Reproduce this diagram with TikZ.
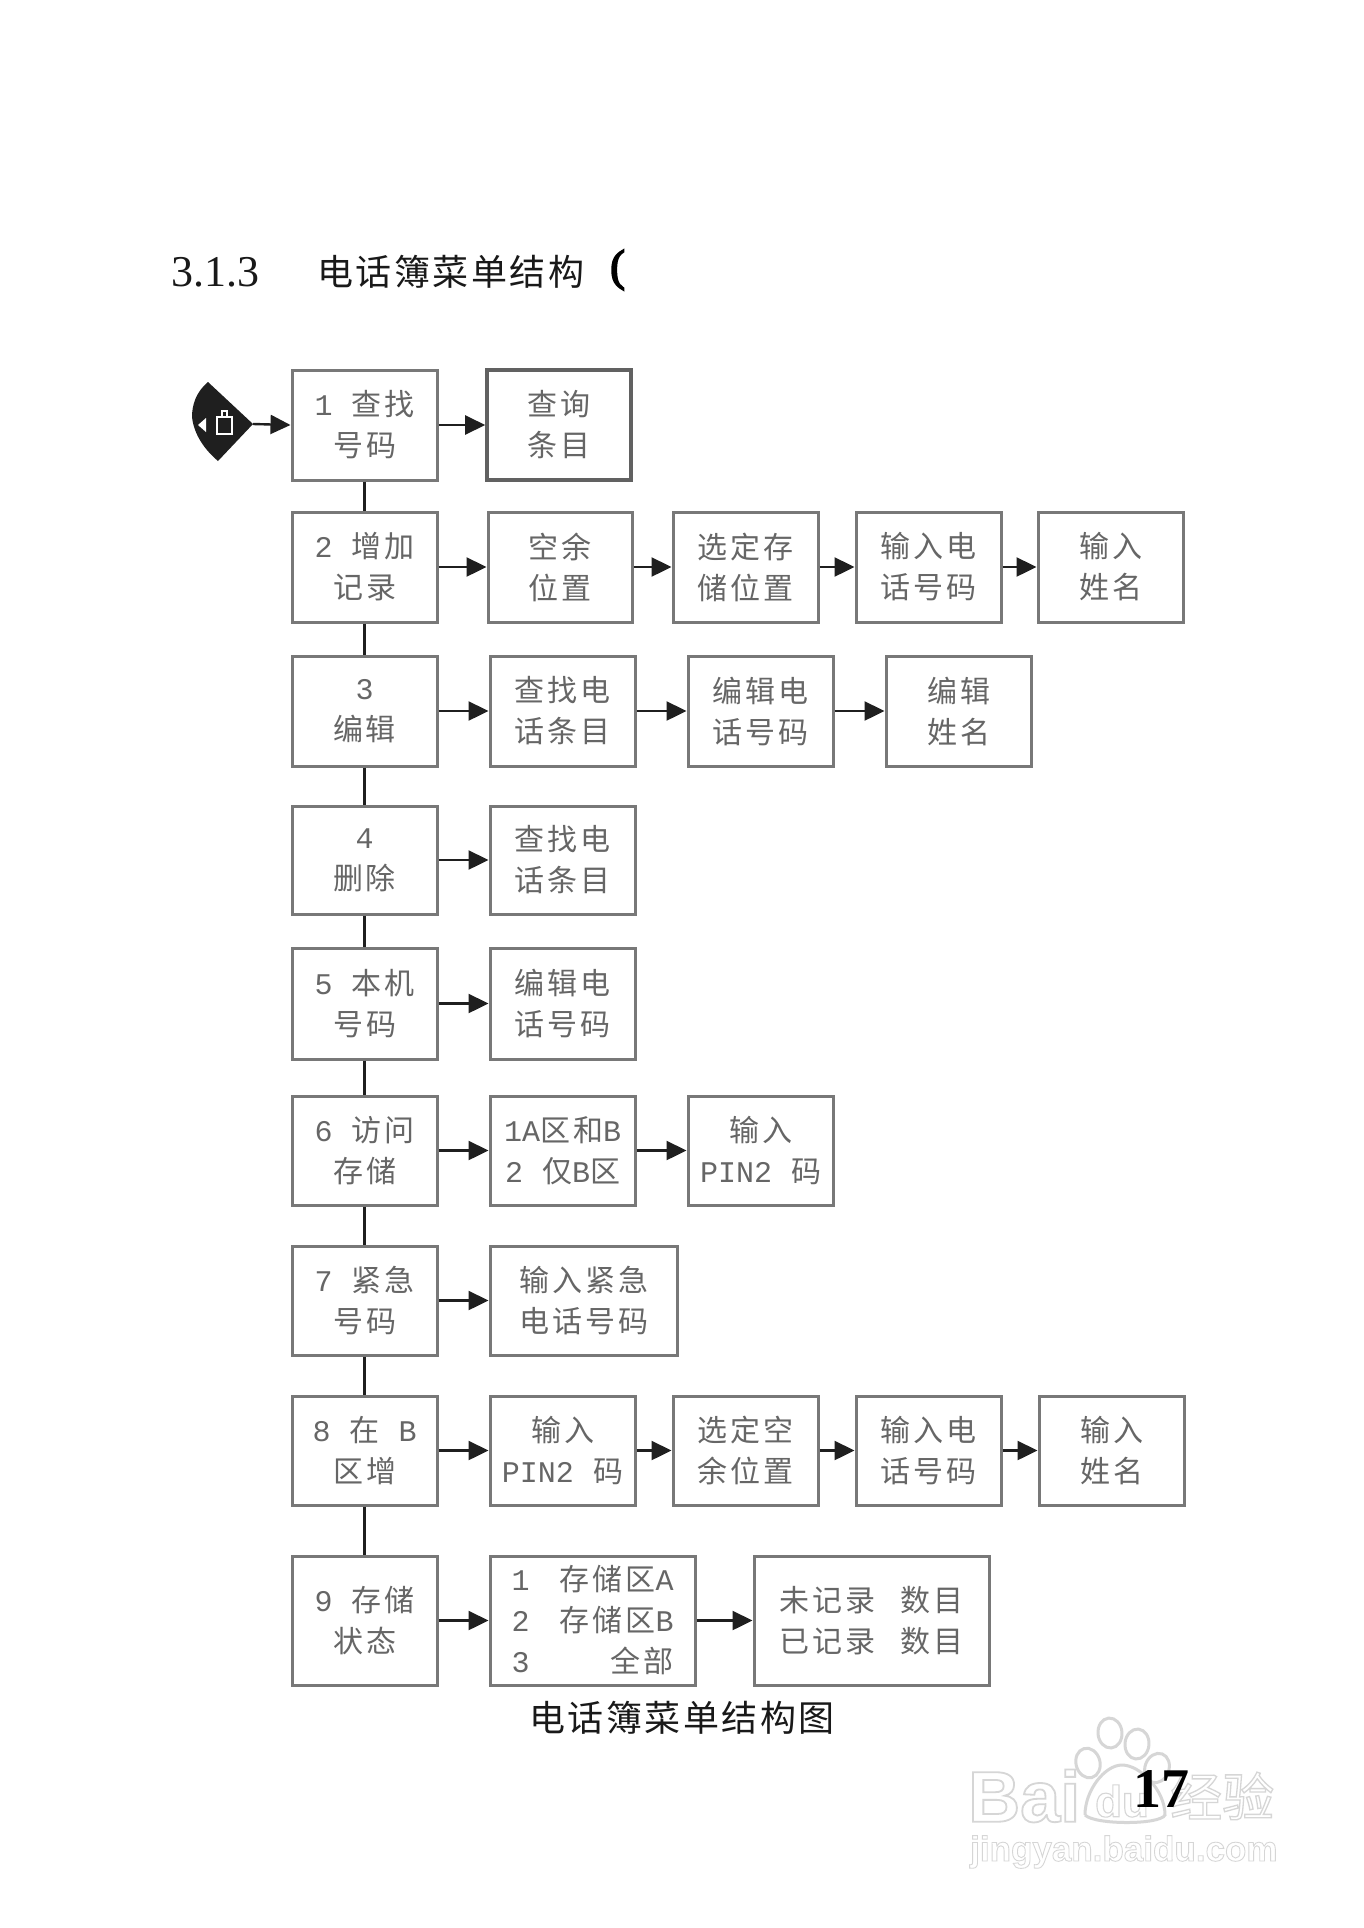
\documentclass[tikz,border=0pt]{standalone}
\usepackage{fontspec}
\usetikzlibrary{arrows.meta}
\setmainfont{Liberation Serif}
\setmonofont{Liberation Mono}
\newfontfamily\cjk[LetterSpace=10]{Noto Sans CJK SC}
\newfontfamily\cjkhead[LetterSpace=7]{Noto Sans CJK SC}
\newfontfamily\brfont[FakeBold=4]{Liberation Serif}
\newfontfamily\wmsans[FakeBold=2.5]{Liberation Sans Bold}
\newfontfamily\wmcjk[FakeBold=2.5]{Noto Sans CJK SC}
\newcommand{\lat}[1]{{\ttfamily #1}}
\newcommand{\gp}{\hspace{19pt}}
\newcommand{\outl}[1]{\special{pdf:code q 1 g 0.84 G}#1\special{pdf:code Q}}
\newcommand{\bx}[6]{\node[menubox,minimum width={#4-#2},minimum height={#5-#3}] (#1) at ({(#2+#4)/2},{(#3+#5)/2}) {#6};}
\definecolor{boxline}{gray}{0.47}
\definecolor{boxtext}{gray}{0.40}
\tikzset{
  menubox/.style={draw=boxline,line width=3pt,fill=white,inner sep=0pt,align=center,text=boxtext,
    font=\cjk\fontsize{30}{41}\selectfont},
  link/.style={draw=black!88,line width=2.4pt},
  flow/.style={link,-{Triangle[length=20pt,width=19pt]}},
  titletext/.style={inner sep=0pt,anchor=west,text=black!90},
  mark1/.style={inner sep=0pt},
}
\begin{document}
\begin{tikzpicture}[x=1pt,y=-1pt]
\useasboundingbox (0,0) rectangle (1364,1928);
\fill[white] (0,0) rectangle (1364,1928);
% watermark
\foreach \cx/\cy/\ang in {1088/1763/15,1110/1733/5,1137/1744/-5,1157/1768/-20}
  \draw[black!16,line width=3pt] (\cx,\cy) ellipse[x radius=12,y radius=15,rotate=\ang];
\draw[black!16,line width=3pt] (1085,1815) .. controls (1085,1790) and (1105,1765) .. (1122,1765) .. controls (1140,1765) and (1165,1790) .. (1165,1815) .. controls (1160,1825) and (1095,1825) .. (1085,1815);
\node[mark1,font=\wmsans\fontsize{72}{72}\selectfont,anchor=west] (wmbai) at (968,1796) {\outl{Bai}};
\node[mark1,font=\wmsans\fontsize{44}{46}\selectfont] (wmdu) at (1122,1801) {\outl{du}};
\node[mark1,font=\wmcjk\fontsize{52}{52}\selectfont,anchor=west] (wmjy) at (1170,1796) {\outl{经验}};
\node[mark1,font=\wmsans\fontsize{35}{38}\selectfont,anchor=west] (wmurl) at (970,1852) {\outl{jingyan.baidu.com}};
% heading
\node[titletext,font=\fontsize{44}{48}\selectfont] (secno) at (171,272) {3.1.3};
\node[titletext,font=\cjkhead\fontsize{36}{40}\selectfont] (sectitle) at (317,272) {电话簿菜单结构};
\node[titletext,font=\brfont\fontsize{44}{48}\selectfont,text=black] (secbr) at (610,270) {(};
% start marker
\fill[black!88] (208,382) .. controls (196,392) and (192,405) .. (192,417) .. controls (194,435) and (205,450) .. (218,461) -- (253,424) -- cycle;
\coordinate (start) at (253,424);
\fill[white] (198,425) -- (206,418) -- (206,432) -- cycle;
\draw[white,line width=1.8pt] (217,417) rectangle (232,434);
\draw[white,line width=1.8pt] (222,417) -- (222,411) -- (227,411) -- (227,417);
% main column
\bx{m1}{292}{370}{437}{480}{\lat{1}\gp 查找\\号码}
\bx{m2}{292}{512}{437}{622}{\lat{2}\gp 增加\\记录}
\bx{m3}{292}{656}{437}{766}{\lat{3}\\编辑}
\bx{m4}{292}{806}{437}{914}{\lat{4}\\删除}
\bx{m5}{292}{948}{437}{1059}{\lat{5}\gp 本机\\号码}
\bx{m6}{292}{1096}{437}{1205}{\lat{6}\gp 访问\\存储}
\bx{m7}{292}{1246}{437}{1355}{\lat{7}\gp 紧急\\号码}
\bx{m8}{292}{1396}{437}{1505}{\lat{8}\gp 在\gp\lat{B}\\区增}
\bx{m9}{292}{1556}{437}{1685}{\lat{9}\gp 存储\\状态}
% row 1
\node[menubox,draw=black!62,line width=3.6pt,minimum width=144,minimum height=110] (a1) at (559,425) {查询\\条目};
% row 2
\bx{a2}{488}{512}{632}{622}{空余\\位置}
\bx{b2}{673}{512}{818}{622}{选定存\\储位置}
\bx{c2}{856}{512}{1001}{622}{输入电\\话号码}
\bx{d2}{1038}{512}{1183}{622}{输入\\姓名}
% row 3
\bx{a3}{490}{656}{635}{766}{查找电\\话条目}
\bx{b3}{688}{656}{833}{766}{编辑电\\话号码}
\bx{c3}{886}{656}{1031}{766}{编辑\\姓名}
% row 4, 5
\bx{a4}{490}{806}{635}{914}{查找电\\话条目}
\bx{a5}{490}{948}{635}{1059}{编辑电\\话号码}
% row 6
\bx{a6}{490}{1096}{635}{1205}{\lat{1A}区和\lat{B}\\\lat{2}\gp 仅\lat{B}区}
\bx{b6}{688}{1096}{833}{1205}{输入\\\lat{PIN2}\gp 码}
% row 7
\bx{a7}{490}{1246}{677}{1355}{输入紧急\\电话号码}
% row 8
\bx{a8}{490}{1396}{635}{1505}{输入\\\lat{PIN2}\gp 码}
\bx{b8}{673}{1396}{818}{1505}{选定空\\余位置}
\bx{c8}{856}{1396}{1001}{1505}{输入电\\话号码}
\bx{d8}{1039}{1396}{1184}{1505}{输入\\姓名}
% row 9
\node[menubox,minimum width=205,minimum height=129,text width=162,align=left] (a9) at (592.5,1620.5)
  {\lat{1}\hfill 存储区\lat{A}\\\lat{2}\hfill 存储区\lat{B}\\\lat{3}\hfill 全部};
\bx{b9}{754}{1556}{989}{1685}{未记录\hspace{26pt}数目\\已记录\hspace{26pt}数目}
% vertical links
\foreach \p/\q in {m1/m2,m2/m3,m3/m4,m4/m5,m5/m6,m6/m7,m7/m8,m8/m9}
  \draw[link] (\p.south) -- (\q.north);
% flows
\draw[flow] (start) -- (m1.west);
\foreach \p/\q in {m1/a1,m2/a2,a2/b2,b2/c2,c2/d2,m3/a3,a3/b3,b3/c3,m4/a4,m5/a5,m6/a6,a6/b6,m7/a7,m8/a8,a8/b8,b8/c8,c8/d8,m9/a9,a9/b9}
  \draw[flow] (\p.east) -- (\q.west);
% caption
\node[inner sep=0pt,text=black!90,font=\cjkhead\fontsize{36}{40}\selectfont] (caption) at (682,1718) {电话簿菜单结构图};
% page number
\node[inner sep=0pt,text=black,font=\bfseries\fontsize{56}{60}\selectfont] (pageno) at (1161,1789) {17};
\end{tikzpicture}
\end{document}
